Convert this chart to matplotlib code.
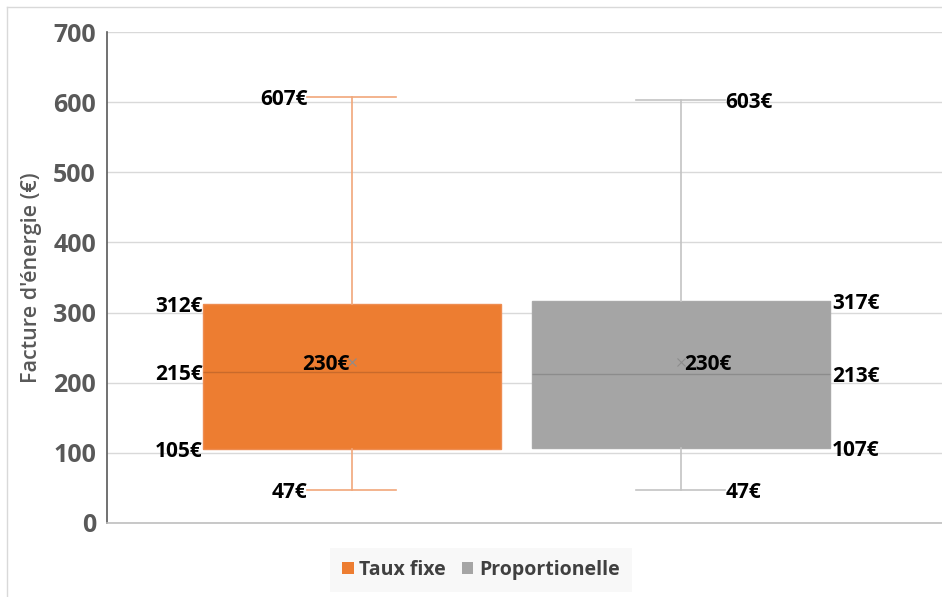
import matplotlib
matplotlib.use("Agg")
import matplotlib.pyplot as plt
from matplotlib.patches import Patch
from matplotlib.lines import Line2D

# ---- data ----
series = ["Taux fixe", "Proportionelle"]
mins = [47, 47]
q1s = [105, 107]
medians = [215, 213]
q3s = [312, 317]
maxs = [607, 603]
means = [230, 230]
yticks = [0, 100, 200, 300, 400, 500, 600, 700]

# ---- style ----
fills = ["#ED7D31", "#A5A5A5"]
edges = ["#EE8D52", "#A9A9A9"]
whisk = ["#F1A77A", "#C3C3C3"]
medc = ["#C96A2B", "#8C8C8C"]
positions = [0.2934, 0.6874]
box_w = 0.3575
cap_w = 0.1066
FONT = "Open Sans"

plt.rcParams["font.family"] = [FONT, "DejaVu Sans"]

fig = plt.figure(figsize=(9.42, 5.97), dpi=100)
ax = fig.add_axes([107/942, 74/597, 835/942, 491/597])

stats = []
for i, name in enumerate(series):
    stats.append(dict(label=name, whislo=mins[i], q1=q1s[i], med=medians[i],
                      q3=q3s[i], whishi=maxs[i], mean=means[i], fliers=[]))

for i in range(2):
    ax.bxp([stats[i]], positions=[positions[i]], widths=box_w, capwidths=cap_w,
           patch_artist=True, showmeans=True, showfliers=False,
           boxprops=dict(facecolor=fills[i], edgecolor=edges[i], linewidth=1),
           whiskerprops=dict(color=whisk[i], linewidth=1.2),
           capprops=dict(color=whisk[i], linewidth=1.2),
           medianprops=dict(color=medc[i], linewidth=1),
           meanprops=dict(marker="x", markeredgecolor="#8C8C8C", markersize=6,
                          markeredgewidth=0.8),
           zorder=3)

ax.set_xlim(0, 1)
ax.set_ylim(0, 700)
ax.set_yticks(yticks)
ax.set_yticklabels([str(v) for v in yticks], fontsize=18, fontweight="bold",
                   color="#595959")
ax.set_xticks([])
ax.tick_params(axis="y", length=0, pad=8)
ax.grid(axis="y", color="#D9D9D9", linewidth=1)
ax.set_axisbelow(True)
for s in ["top", "right"]:
    ax.spines[s].set_visible(False)
ax.spines["left"].set_color("#595959")
ax.spines["left"].set_linewidth(1.2)
ax.spines["bottom"].set_color("#BFBFBF")
ax.spines["bottom"].set_linewidth(1.2)
ax.set_ylabel("Facture d'énergie (€)", fontsize=15.5, fontweight="semibold",
              color="#595959", labelpad=8)

lab = dict(fontsize=15, fontweight="bold", color="black", va="center_baseline", zorder=5)
# series 1: labels to the left
x0 = positions[0]
ax.text(x0 - box_w/2, q3s[0], f"{q3s[0]}€", ha="right", **lab)
ax.text(x0 - box_w/2, medians[0], f"{medians[0]}€", ha="right", **lab)
ax.text(x0 - box_w/2, q1s[0], f"{q1s[0]}€", ha="right", **lab)
ax.text(x0 - cap_w/2, maxs[0], f"{maxs[0]}€", ha="right", **lab)
ax.text(x0 - cap_w/2, mins[0], f"{mins[0]}€", ha="right", **lab)
ax.text(x0 - 0.003, means[0], f"{means[0]}€", ha="right", **lab)
# series 2: labels to the right
x1 = positions[1]
ax.text(x1 + box_w/2 + 0.002, q3s[1], f"{q3s[1]}€", ha="left", **lab)
ax.text(x1 + box_w/2 + 0.002, medians[1], f"{medians[1]}€", ha="left", **lab)
ax.text(x1 + box_w/2 + 0.002, q1s[1], f"{q1s[1]}€", ha="left", **lab)
ax.text(x1 + cap_w/2, maxs[1], f"{maxs[1]}€", ha="left", **lab)
ax.text(x1 + cap_w/2, mins[1], f"{mins[1]}€", ha="left", **lab)
ax.text(x1 + 0.004, means[1], f"{means[1]}€", ha="left", **lab)

handles = [Patch(facecolor=fills[i], edgecolor="none", label=series[i]) for i in range(2)]
leg = fig.legend(handles=handles, loc="center", bbox_to_anchor=(481/942, 1 - 570/597),
                 ncol=2, frameon=True, fontsize=14, handlelength=0.6, handleheight=0.6,
                 handletextpad=0.3, columnspacing=0.8, borderpad=0.6, fancybox=False)
leg.get_frame().set_facecolor("#F7F7F7")
leg.get_frame().set_edgecolor("none")
for t in leg.get_texts():
    t.set_fontweight("bold")
    t.set_color("#404040")

# outer chart border (left and top)
fig.add_artist(Line2D([7/942, 7/942], [0, 1 - 7/597], color="#D9D9D9", lw=1,
                      transform=fig.transFigure))
fig.add_artist(Line2D([7/942, 1], [1 - 7/597, 1 - 7/597], color="#D9D9D9", lw=1,
                      transform=fig.transFigure))

fig.savefig("out.png", dpi=100)
